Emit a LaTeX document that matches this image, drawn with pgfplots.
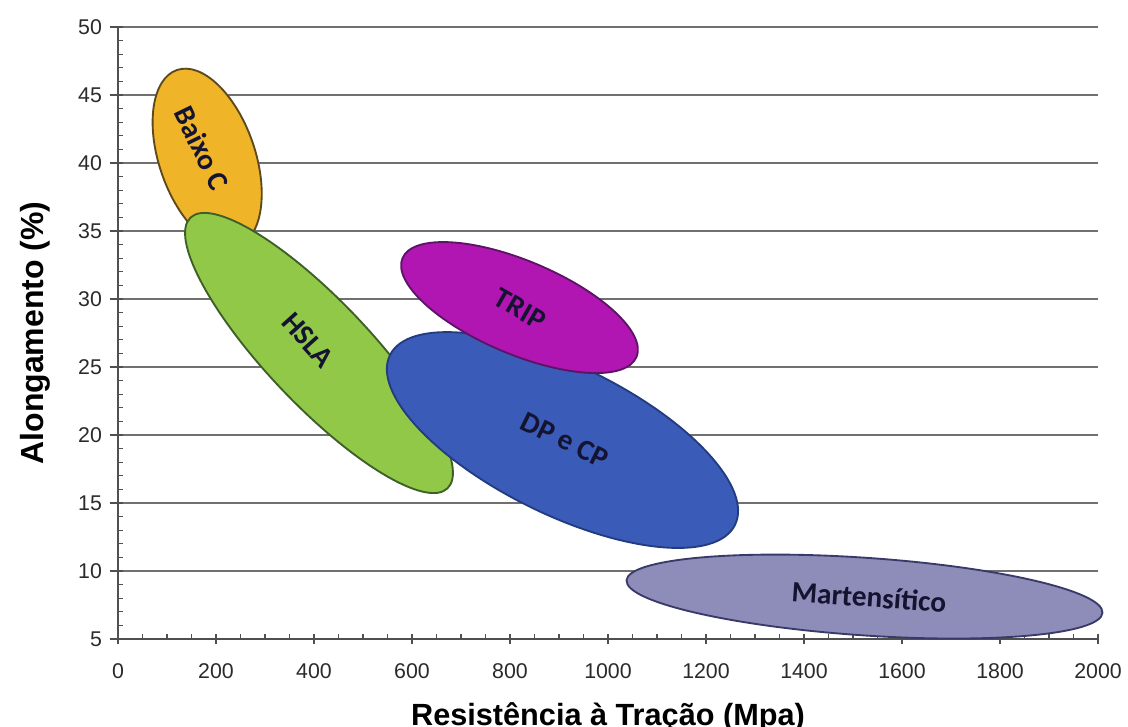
\documentclass[border=0pt]{standalone}
\usepackage{fontspec}
\setmainfont{Liberation Sans}
\newfontfamily\labfont{Carlito}
\usepackage{pgfplots}
\pgfplotsset{compat=1.18}
\definecolor{axisgray}{HTML}{505050}
\definecolor{gridgray}{HTML}{707070}
\definecolor{tickc}{HTML}{2A2A2A}
\definecolor{yelF}{HTML}{F0B428}\definecolor{yelD}{HTML}{5C4A1E}
\definecolor{grnF}{HTML}{92C848}\definecolor{grnD}{HTML}{3E5F28}
\definecolor{magF}{HTML}{B216B2}\definecolor{magD}{HTML}{5B1466}
\definecolor{bluF}{HTML}{3A5BB7}\definecolor{bluD}{HTML}{233C80}
\definecolor{marF}{HTML}{8E8CB8}\definecolor{marD}{HTML}{3A3A6A}
\definecolor{txtc}{HTML}{141430}
% ellipse: center x, center y (axis units), semi-axes (bp), angle (deg), fill, draw
\newcommand{\blob}[7]{\draw[fill=#6, draw=#7, line width=1.4bp, rotate around={#5:(axis cs:#1,#2)}] (axis cs:#1,#2) ellipse [x radius=#3bp, y radius=#4bp];}
\newcommand{\blabel}[4]{\node[rotate=#3, text=txtc, font=\labfont\bfseries\fontsize{22bp}{24bp}\selectfont, inner sep=0pt] at (axis cs:#1,#2) {#4};}
\begin{document}
\begin{tikzpicture}
\path[use as bounding box] (-88.5bp,-66bp) rectangle (757.5bp,479.25bp);
\begin{axis}[
  at={(0,0)}, anchor=south west,
  scale only axis, width=735bp, height=459bp,
  xmin=0, xmax=2000, ymin=5, ymax=50,
  axis lines=left, axis line style={-, line width=1.3bp, draw=axisgray},
  xtick={0,200,...,2000}, ytick={5,10,...,50},
  minor x tick num=3, minor y tick num=4,
  tick align=inside, major tick length=3.5bp, minor tick length=4bp,
  tick style={line width=1bp, draw=axisgray},
  extra x ticks={0,200,...,2000}, extra x tick labels={},
  extra x tick style={tick align=outside, major tick length=4bp, grid=none},
  extra y ticks={5,10,...,50}, extra y tick labels={},
  extra y tick style={tick align=outside, major tick length=6bp, grid=none},
  ymajorgrids, major grid style={line width=1.5bp, draw=gridgray},
  /pgf/number format/assume math mode=true,
  /pgf/number format/1000 sep={},
  ticklabel style={font=\fontsize{16bp}{18bp}\selectfont, text=tickc},
  xticklabel style={yshift=-15bp},
  yticklabel style={xshift=-8.5bp},
  xlabel={Resistência à Tração (Mpa)}, ylabel={Alongamento (\%)},
  every axis x label/.style={at={(axis description cs:0.5,0)}, anchor=base, yshift=-64.5bp, font=\fontsize{23bp}{26bp}\selectfont\bfseries},
  every axis y label/.style={at={(axis description cs:-0.0765,0.5)}, rotate=90, anchor=base, font=\fontsize{24bp}{27bp}\selectfont\bfseries},
  clip=false,
]
\blob{182}{40.37}{69.75}{36}{-71}{yelF}{yelD}
\blob{410.2}{26.03}{140}{39}{-46.5}{grnF}{grnD}
\blob{907.1}{19.63}{144.2}{55.7}{-26.2}{bluF}{bluD}
\blob{819.4}{29.37}{95.25}{35}{-22.9}{magF}{magD}
\blob{1523.5}{8.12}{178.9}{29.1}{-3.9}{marF}{marD}
\blabel{171.4}{41.1}{-64}{Baixo C}
\blabel{387.8}{26.99}{-48}{HSLA}
\blabel{820.4}{29.26}{-30}{TRIP}
\blabel{912.2}{19.63}{-26}{DP e CP}
\blabel{1532.7}{8.09}{-4}{Martensítico}
\end{axis}
\end{tikzpicture}
\end{document}
